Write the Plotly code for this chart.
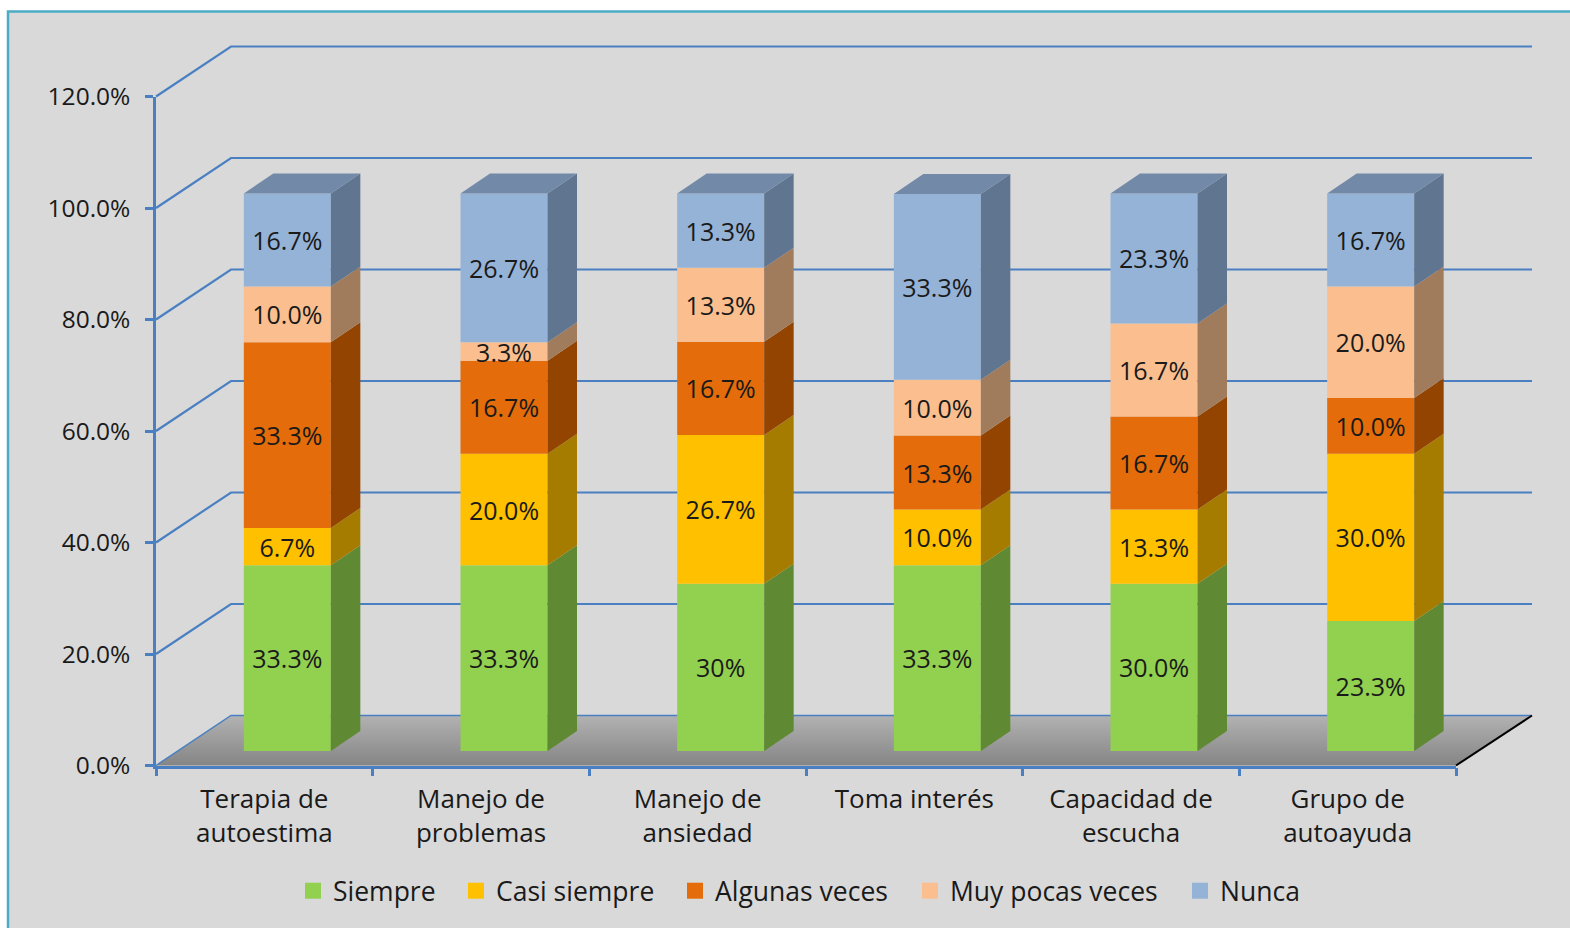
import plotly.graph_objects as go

# ---- data ----
categories = ["Terapia de<br>autoestima", "Manejo de<br>problemas", "Manejo de<br>ansiedad",
              "Toma interés", "Capacidad de<br>escucha", "Grupo de<br>autoayuda"]
siempre = [33.3, 33.3, 30.0, 33.3, 30.0, 23.3]
casi_siempre = [6.7, 20.0, 26.7, 10.0, 13.3, 30.0]
algunas_veces = [33.3, 16.7, 16.7, 13.3, 16.7, 10.0]
muy_pocas_veces = [10.0, 3.3, 13.3, 10.0, 16.7, 20.0]
nunca = [16.7, 26.7, 13.3, 33.3, 23.3, 16.7]
siempre_labels = ["33.3%", "33.3%", "30%", "33.3%", "30.0%", "23.3%"]
y_ticks = [0, 20, 40, 60, 80, 100, 120]
y_tick_labels = ["0.0%", "20.0%", "40.0%", "60.0%", "80.0%", "100.0%", "120.0%"]

series_names = ["Siempre", "Casi siempre", "Algunas veces", "Muy pocas veces", "Nunca"]
series_values = [siempre, casi_siempre, algunas_veces, muy_pocas_veces, nunca]
front_colors = ["#92d050", "#ffc000", "#e46c0a", "#fbbf8f", "#95b3d7"]
side_colors = ["#5f8a33", "#a67c00", "#934400", "#a07c5c", "#5f7590"]
top_color = "#7389a8"
grid_color = "#4a80c2"
text_color = "#1a1a1a"
FONT = "Open Sans"

# ---- page geometry (pixels) ----
W, H = 1570, 928
AX_L, AX_R = 156.0, 1456.0
AX_0, AX_120 = 765.5, 96.5
cat_px = (AX_R - AX_L) / len(categories)
pct_px = (AX_0 - AX_120) / 120.0
c0_px = AX_L + cat_px / 2
legend_left_px = [293, 456, 675, 910, 1180]
legend_mid_px = 891

# conversions of pixel offsets to data units
ux = lambda px: px / cat_px
uy = lambda px: px / pct_px
BACK_X, BACK_X_R, BACK_Y = ux(75), ux(76), uy(50)
BAR_SHIFT_X, BAR_SHIFT_Y = ux(23), uy(14.5)
BAR_W = ux(87)
DEPTH_X, DEPTH_Y = ux(29.5), uy(20)

full_x = [(0 - c0_px) / cat_px, (W - c0_px) / cat_px]
full_y = [(AX_0 - H) / pct_px, AX_0 / pct_px]

fig = go.Figure()

# ---- back walls and floor ----
x_left, x_right = -0.5, len(categories) - 0.5
fig.add_trace(go.Scatter(
    x=[x_left, x_right, x_right + BACK_X_R, x_left + BACK_X, x_left],
    y=[0, 0, BACK_Y, BACK_Y, 0],
    mode="lines", line=dict(width=0), fill="toself",
    fillgradient=dict(type="vertical", colorscale=[[0, "#858585"], [1, "#b2b2b2"]]),
    showlegend=False, hoverinfo="skip", xaxis="x", yaxis="y"))
for t in y_ticks:
    fig.add_trace(go.Scatter(
        x=[x_left, x_left + BACK_X, x_right + BACK_X_R],
        y=[t, t + BACK_Y, t + BACK_Y],
        mode="lines", line=dict(color=grid_color, width=2.2 if t else 1.5),
        showlegend=False, hoverinfo="skip", xaxis="x", yaxis="y"))
fig.add_trace(go.Scatter(
    x=[x_right, x_right + BACK_X_R], y=[0, BACK_Y],
    mode="lines", line=dict(color="#000000", width=2),
    showlegend=False, hoverinfo="skip", xaxis="x", yaxis="y"))

# ---- bars: front faces, side faces, top faces ----
xs = [i + BAR_SHIFT_X for i in range(len(categories))]
right = [x + BAR_W / 2 for x in xs]
base = [BAR_SHIFT_Y] * len(categories)
for s, (name, vals) in enumerate(zip(series_names, series_values)):
    labels = siempre_labels if s == 0 else [f"{v:.1f}%" for v in vals]
    fig.add_trace(go.Bar(
        x=xs, y=vals, base=base, width=BAR_W, name=name,
        marker=dict(color=front_colors[s], line=dict(width=0)),
        text=labels, textposition="inside", insidetextanchor="middle",
        textangle=0, constraintext="none",
        textfont=dict(family=FONT, size=25, color=text_color),
        showlegend=False, hoverinfo="skip", xaxis="x2", yaxis="y2"))
    px, py = [], []
    for r, b, v in zip(right, base, vals):
        px += [r, r + DEPTH_X, r + DEPTH_X, r, r, None]
        py += [b, b + DEPTH_Y, b + v + DEPTH_Y, b + v, b, None]
    fig.add_trace(go.Scatter(
        x=px, y=py, mode="lines", line=dict(width=0), fill="toself",
        fillcolor=side_colors[s], showlegend=False, hoverinfo="skip",
        xaxis="x2", yaxis="y2"))
    base = [b + v for b, v in zip(base, vals)]

tx, ty = [], []
for r, b in zip(right, base):
    tx += [r - BAR_W, r, r + DEPTH_X, r - BAR_W + DEPTH_X, r - BAR_W, None]
    ty += [b, b, b + DEPTH_Y, b + DEPTH_Y, b, None]
fig.add_trace(go.Scatter(
    x=tx, y=ty, mode="lines", line=dict(width=0), fill="toself",
    fillcolor=top_color, showlegend=False, hoverinfo="skip",
    xaxis="x2", yaxis="y2"))

# ---- legend entries: one small legend per series, placed individually ----
legend_layout = {}
for i, (name, col, left) in enumerate(zip(series_names, front_colors, legend_left_px)):
    key = "legend" if i == 0 else f"legend{i + 1}"
    fig.add_trace(go.Scatter(
        x=[None], y=[None], mode="markers", name=name, legend=key,
        marker=dict(symbol="square", size=16, color=col),
        xaxis="x2", yaxis="y2"))
    legend_layout[key] = dict(
        x=left / W, xanchor="left", y=(H - legend_mid_px) / H, yanchor="middle",
        orientation="h", bgcolor="rgba(0,0,0,0)", borderwidth=0,
        font=dict(family=FONT, size=26.5, color=text_color),
        itemsizing="trace", itemclick=False, itemdoubleclick=False)

# ---- real category / value axes ----
fig.add_trace(go.Scatter(
    x=categories, y=[None] * len(categories), mode="markers",
    marker=dict(opacity=0), showlegend=False, hoverinfo="skip",
    xaxis="x3", yaxis="y3"))

hidden = dict(visible=False, fixedrange=True)
fig.update_layout(
    width=W, height=H, autosize=False,
    margin=dict(l=0, r=0, t=0, b=0, pad=0, autoexpand=False),
    paper_bgcolor="#ffffff", plot_bgcolor="rgba(0,0,0,0)",
    barmode="overlay", showlegend=True, hovermode=False,
    font=dict(family=FONT, size=24, color=text_color),
    xaxis=dict(domain=[0, 1], range=full_x, anchor="y", **hidden),
    yaxis=dict(domain=[0, 1], range=full_y, anchor="x", **hidden),
    xaxis2=dict(domain=[0, 1], range=full_x, anchor="y2", **hidden),
    yaxis2=dict(domain=[0, 1], range=full_y, anchor="x2", **hidden),
    xaxis3=dict(
        domain=[AX_L / W, AX_R / W], anchor="y3", type="category",
        categoryorder="array", categoryarray=categories, range=[-0.5, 5.5],
        tickson="boundaries", ticks="outside", ticklen=8, tickwidth=2.5,
        tickcolor=grid_color, showline=True, linecolor=grid_color, linewidth=2.5,
        showgrid=False, zeroline=False, tickangle=0, ticklabelstandoff=9,
        tickfont=dict(family=FONT, size=26, color=text_color), fixedrange=True),
    yaxis3=dict(
        domain=[(H - AX_0) / H, (H - AX_120) / H], anchor="x3", range=[0, 120],
        tickmode="array", tickvals=y_ticks, ticktext=y_tick_labels,
        ticks="outside", ticklen=8, tickwidth=2.5,
        tickcolor=grid_color, showline=True, linecolor=grid_color, linewidth=2.5,
        showgrid=False, zeroline=False, ticklabelstandoff=10,
        tickfont=dict(family=FONT, size=24.5, color=text_color), fixedrange=True),
    shapes=[dict(type="rect", xref="paper", yref="paper", layer="below",
                 x0=8 / W, x1=1.02, y0=-0.02, y1=(H - 11.5) / H,
                 fillcolor="#d9d9d9", line=dict(color="#4bacc6", width=2.5))],
    **legend_layout,
)

fig.write_html("out.html", config={"displayModeBar": False},
               post_script="document.body.style.margin='0';document.documentElement.style.overflow='hidden';")
